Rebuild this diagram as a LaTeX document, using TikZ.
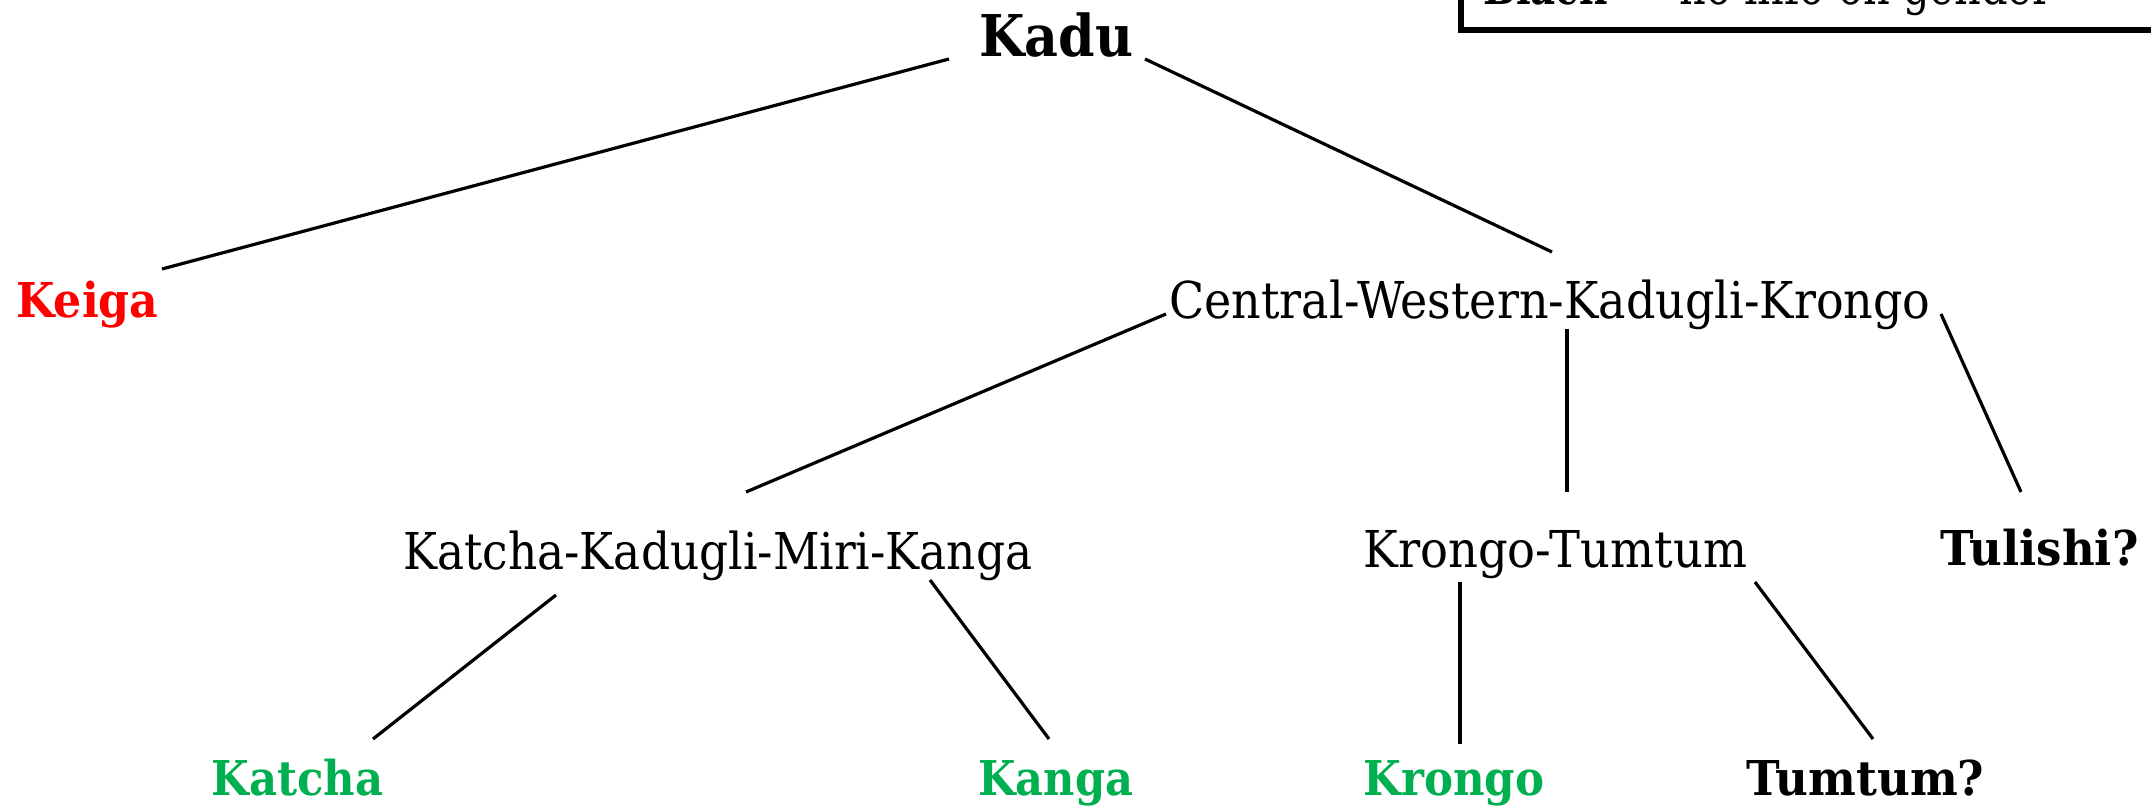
\documentclass[tikz,border=0pt]{standalone}
\usepackage{fontspec}
\setmainfont{DejaVu Serif}
\usepackage{graphicx}
\definecolor{keigared}{RGB}{255,0,0}
\definecolor{leafgreen}{RGB}{0,176,80}
% one drawing unit = 0.5pt
\newlength\pxu \setlength\pxu{0.5pt}
% set a label to a fixed width, keeping its height
\newcommand\fitw[2]{\resizebox{#1\pxu}{\height}{#2}}

\begin{document}
\begin{tikzpicture}[x=0.5pt,y=-0.5pt,
  lab/.style={anchor=base west, inner sep=0pt},
  group/.style={lab, font=\fontsize{25.4}{30}\selectfont},
  lang/.style={lab, font=\fontsize{24}{29}\selectfont\bfseries},
  branch/.style={line width=1.6pt}]
\useasboundingbox (0,0) rectangle (2151,808);
\clip (0,0) rectangle (2151,808);

% legend box (runs off the top and right edges)
\draw[line width=3pt] (1461,-40) -- (1461,30) -- (2220,30);
\node[lang] (lgblack) at (1483,5) {\fitw{123}{Black}};
\node[group] (lgdash) at (1628,5) {\fitw{40}{—}};
\node[group] (lgtext) at (1679,5) {\fitw{373}{no info on gender}};

% tree labels
\node[lab, font=\fontsize{28.8}{34}\selectfont\bfseries] (kadu) at (979,57) {\fitw{154}{Kadu}};
\node[lang, text=keigared] (keiga) at (16,317) {\fitw{142}{Keiga}};
\node[group] (cwkk) at (1169,318) {\fitw{761}{Central-Western-Kadugli-Krongo}};
\node[group] (kkmk) at (403,569) {\fitw{629}{Katcha-Kadugli-Miri-Kanga}};
\node[group] (kt) at (1363,567) {\fitw{384}{Krongo-Tumtum}};
\node[lang] (tulishi) at (1940,565) {\fitw{198}{Tulishi?}};
\node[lang, text=leafgreen] (katcha) at (211,795) {\fitw{172}{Katcha}};
\node[lang, text=leafgreen] (kanga) at (978,795) {\fitw{155}{Kanga}};
\node[lang, text=leafgreen] (krongo) at (1363,795) {\fitw{181}{Krongo}};
\node[lang] (tumtum) at (1746,795) {\fitw{238}{Tumtum?}};

% branch end points
\coordinate (kadu-l) at (949,59);
\coordinate (kadu-r) at (1145,59);
\coordinate (keiga-t) at (162,269);
\coordinate (cwkk-t) at (1552,252);
\coordinate (cwkk-l) at (1166,314);
\coordinate (cwkk-b) at (1567,329);
\coordinate (cwkk-r) at (1941,314);
\coordinate (kkmk-t) at (746,492);
\coordinate (kkmk-l) at (556,595);
\coordinate (kkmk-r) at (930,580);
\coordinate (kt-t) at (1567,492);
\coordinate (kt-l) at (1460,582);
\coordinate (kt-r) at (1755,582);
\coordinate (tulishi-t) at (2021,492);
\coordinate (katcha-t) at (373,739);
\coordinate (kanga-t) at (1049,739);
\coordinate (krongo-t) at (1460,744);
\coordinate (tumtum-t) at (1873,739);

% branches
\draw[branch] (kadu-l) -- (keiga-t);
\draw[branch] (kadu-r) -- (cwkk-t);
\draw[branch] (cwkk-l) -- (kkmk-t);
\draw[branch] (cwkk-b) -- (kt-t);
\draw[branch] (cwkk-r) -- (tulishi-t);
\draw[branch] (kkmk-l) -- (katcha-t);
\draw[branch] (kkmk-r) -- (kanga-t);
\draw[branch] (kt-l) -- (krongo-t);
\draw[branch] (kt-r) -- (tumtum-t);
\end{tikzpicture}
\end{document}
